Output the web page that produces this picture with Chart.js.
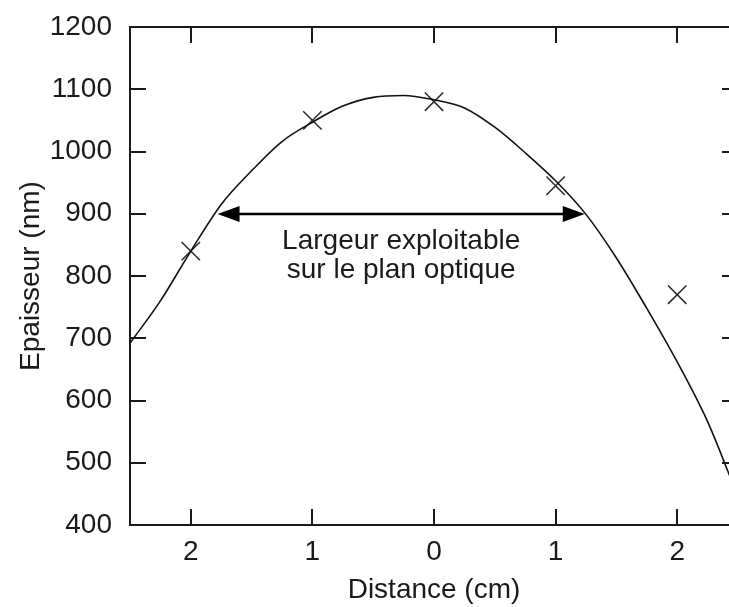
<!DOCTYPE html>
<html lang="fr">
<head>
<meta charset="utf-8">
<title>Epaisseur en fonction de la distance</title>
<script src="https://cdn.jsdelivr.net/npm/chart.js@4.4.1/dist/chart.umd.min.js"></script>
<style>
  html, body { margin: 0; padding: 0; background: #fff; overflow: hidden; }
  #wrap { width: 745px; height: 607px; }
</style>
</head>
<body>
<div id="wrap"><canvas id="chart" width="745" height="607"></canvas></div>
<script>
/* ── données ─────────────────────────────────────────────── */
// courbe d'ajustement
const distanceFit  = [-2.5, -2.25, -2, -1.75, -1.5, -1.25, -1, -0.75, -0.5, -0.25,
                      0, 0.25, 0.5, 0.75, 1, 1.25, 1.5, 1.75, 2, 2.25, 2.5];
const epaisseurFit = [692, 760, 840, 915, 969, 1016, 1047, 1073, 1087, 1090,
                      1083, 1070, 1039, 998, 953, 899, 829, 748, 662, 566, 445];

// points mesurés
const distanceMes  = [-2, -1, 0, 1, 2];
const epaisseurMes = [840, 1050, 1080, 945, 770];

const xTicks = [-2, -1, 0, 1, 2];
const yTicks = [400, 500, 600, 700, 800, 900, 1000, 1100, 1200];

// zone exploitable
const largeurBornes = [-1.78, 1.24];
const largeurNiveau = 900;
const largeurTexte  = ['Largeur exploitable', 'sur le plan optique'];
const texteX = -0.27;
const texteY = [855, 809];

/* ── style ───────────────────────────────────────────────── */
const FONT = "'Liberation Sans', Arial, sans-serif";
const INK  = '#1a1a1a';
const TICK = 16;

Chart.defaults.font.family = FONT;
Chart.defaults.font.size = 28;
Chart.defaults.color = INK;

// les étiquettes ne doivent pas décaler la zone de tracé
const noLabelPadding = s => {
  s.paddingTop = s.paddingBottom = s.paddingLeft = s.paddingRight = 0;
};

/* ── cadre, graduations intérieures et flèche ─────────────── */
const cadre = {
  id: 'cadre',
  afterDatasetsDraw(chart) {
    const { ctx, chartArea: a, scales: { x, y } } = chart;
    ctx.save();
    ctx.strokeStyle = INK;
    ctx.lineWidth = 2;
    ctx.strokeRect(a.left, a.top, a.right - a.left, a.bottom - a.top);

    ctx.beginPath();
    xTicks.forEach(v => {
      const px = Math.round(x.getPixelForValue(v));
      ctx.moveTo(px, a.bottom); ctx.lineTo(px, a.bottom - TICK);
      ctx.moveTo(px, a.top);    ctx.lineTo(px, a.top + TICK);
    });
    yTicks.forEach(v => {
      const py = Math.round(y.getPixelForValue(v));
      ctx.moveTo(a.left, py);  ctx.lineTo(a.left + TICK, py);
      ctx.moveTo(a.right, py); ctx.lineTo(a.right - TICK, py);
    });
    ctx.stroke();

    // double flèche
    const x1 = x.getPixelForValue(largeurBornes[0]);
    const x2 = x.getPixelForValue(largeurBornes[1]);
    const ay = Math.round(y.getPixelForValue(largeurNiveau));
    const hl = 22, hw = 8;
    ctx.fillStyle = '#000';
    ctx.strokeStyle = '#000';
    ctx.lineWidth = 2.5;
    ctx.beginPath();
    ctx.moveTo(x1 + hl - 2, ay); ctx.lineTo(x2 - hl + 2, ay);
    ctx.stroke();
    ctx.beginPath();
    ctx.moveTo(x1, ay); ctx.lineTo(x1 + hl, ay - hw); ctx.lineTo(x1 + hl, ay + hw); ctx.closePath();
    ctx.moveTo(x2, ay); ctx.lineTo(x2 - hl, ay - hw); ctx.lineTo(x2 - hl, ay + hw); ctx.closePath();
    ctx.fill();

    ctx.fillStyle = INK;
    ctx.font = `28px ${FONT}`;
    ctx.textAlign = 'center';
    ctx.textBaseline = 'middle';
    largeurTexte.forEach((t, i) => {
      ctx.fillText(t, x.getPixelForValue(texteX), y.getPixelForValue(texteY[i]));
    });
    ctx.restore();
  }
};

new Chart(document.getElementById('chart'), {
  type: 'scatter',
  data: {
    datasets: [
      {
        label: 'ajustement',
        type: 'line',
        data: distanceFit.map((d, i) => ({ x: d, y: epaisseurFit[i] })),
        borderColor: '#111',
        borderWidth: 1.6,
        pointRadius: 0,
        cubicInterpolationMode: 'monotone',
        fill: false,
      },
      {
        label: 'mesures',
        data: distanceMes.map((d, i) => ({ x: d, y: epaisseurMes[i] })),
        pointStyle: 'crossRot',
        pointRadius: 13,
        borderColor: '#2a2a2a',
        borderWidth: 1.5,
      },
    ],
  },
  options: {
    responsive: false,
    animation: false,
    layout: { autoPadding: false, padding: { left: 0, top: 27, right: 7, bottom: 0 } },
    plugins: { legend: { display: false }, tooltip: { enabled: false } },
    scales: {
      x: {
        type: 'linear',
        min: -2.5, max: 2.5,
        afterBuildTicks: s => { s.ticks = xTicks.map(v => ({ value: v })); },
        afterFit: s => { s.height = 82; noLabelPadding(s); },
        grid: { display: false, drawTicks: false },
        border: { display: false },
        ticks: { padding: 10, maxRotation: 0, callback: v => String(Math.abs(v)) },
        title: { display: true, text: 'Distance (cm)', padding: { top: 0, bottom: 0 } },
      },
      y: {
        min: 400, max: 1200,
        afterBuildTicks: s => { s.ticks = yTicks.map(v => ({ value: v })); },
        afterFit: s => { s.width = 130; noLabelPadding(s); },
        grid: { display: false, drawTicks: false },
        border: { display: false },
        ticks: { padding: 18, callback: v => String(v) },
        title: { display: true, text: 'Epaisseur (nm)', padding: { top: 14, bottom: 0 } },
      },
    },
  },
  plugins: [cadre],
});
</script>
</body>
</html>
